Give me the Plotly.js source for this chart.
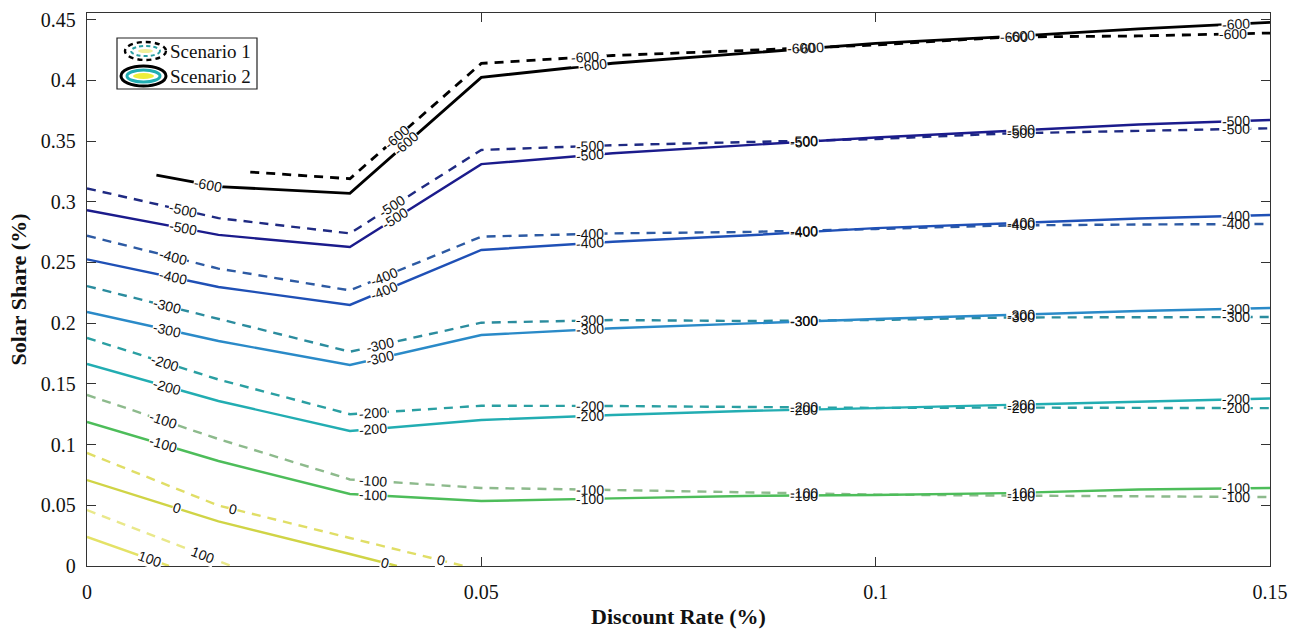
<!DOCTYPE html>
<html><head><meta charset="utf-8">
<script src="https://cdn.plot.ly/plotly-3.0.1.min.js"></script>
<style>body{margin:0;background:#fff}#chart{width:1298px;height:630px}</style>
</head><body><div id="chart"></div>
<script>
// ---------- data ----------
const xGrid = [0, 1/60, 1/30, 0.05, 1/15, 1/12, 0.1, 7/60, 2/15, 0.15];
const xTickVals = [0, 0.05, 0.1, 0.15];
const xTickText = ['0', '0.05', '0.1', '0.15'];
const yTickVals = [0, 0.05, 0.1, 0.15, 0.2, 0.25, 0.3, 0.35, 0.4, 0.45];
const yTickText = ['0', '0.05', '0.1', '0.15', '0.2', '0.25', '0.3', '0.35', '0.4', '0.45'];
const levelNames = ['-600', '-500', '-400', '-300', '-200', '-100', '0', '100'];

// Scenario 1 (dashed contours)
const s1_m600_x = [0.0207, 1/30, 0.05, 1/15, 1/12, 0.1, 7/60, 2/15, 0.15];
const s1_m600_y = [0.3245, 0.319, 0.414, 0.4205, 0.4246, 0.4292, 0.4357, 0.4366, 0.439];
const s1_m500_y = [0.311, 0.2865, 0.274, 0.3427, 0.3466, 0.3489, 0.3517, 0.3563, 0.3583, 0.3605];
const s1_m400_y = [0.272, 0.245, 0.227, 0.2713, 0.274, 0.2751, 0.2776, 0.2805, 0.2813, 0.2817];
const s1_m300_y = [0.2306, 0.2035, 0.1765, 0.2004, 0.2026, 0.2018, 0.2026, 0.2047, 0.2051, 0.2051];
const s1_m200_y = [0.1878, 0.1536, 0.125, 0.132, 0.1318, 0.131, 0.1302, 0.1305, 0.130, 0.130];
const s1_m100_y = [0.1409, 0.1046, 0.0713, 0.0643, 0.0626, 0.0605, 0.0588, 0.058, 0.0572, 0.0568];
const s1_z0_x = [0, 1/60, 1/30, 0.0478];
const s1_z0_y = [0.0931, 0.0498, 0.0231, 0];
const s1_p100_x = [0, 0.0183];
const s1_p100_y = [0.0461, 0];

// Scenario 2 (solid contours)
const s2_m600_x = [0.0088, 1/60, 1/30, 0.05, 1/15, 1/12, 0.1, 7/60, 2/15, 0.15];
const s2_m600_y = [0.322, 0.3125, 0.307, 0.4025, 0.4141, 0.4222, 0.4304, 0.436, 0.4425, 0.4477];
const s2_m500_y = [0.293, 0.2727, 0.2628, 0.331, 0.340, 0.3465, 0.353, 0.3583, 0.3636, 0.3674];
const s2_m400_y = [0.2526, 0.2298, 0.215, 0.2603, 0.2671, 0.2722, 0.2783, 0.2821, 0.2862, 0.2891];
const s2_m300_y = [0.2092, 0.1853, 0.1656, 0.1903, 0.1958, 0.1998, 0.2035, 0.2067, 0.210, 0.2125];
const s2_m200_y = [0.1664, 0.1359, 0.1112, 0.1203, 0.1244, 0.1277, 0.130, 0.1326, 0.1355, 0.138];
const s2_m100_y = [0.1186, 0.0865, 0.0593, 0.0535, 0.0557, 0.0577, 0.0585, 0.060, 0.063, 0.0643];
const s2_z0_x = [0, 1/60, 1/30, 0.0393];
const s2_z0_y = [0.0708, 0.0367, 0.0099, 0];
const s2_p100_x = [0, 0.0104];
const s2_p100_y = [0.0239, 0];

// contour label positions (x along each line)
const rightLabX = [0.0638, 0.0909, 0.1184, 0.1457];
const s1_m600_lab = [0.0393, 0.0632, 0.0905, 0.1175, 0.1453];
const s1_m500_lab = [0.0122, 0.0387].concat(rightLabX);
const s1_m400_lab = [0.0109, 0.0376].concat(rightLabX);
const s1_m300_lab = [0.0102, 0.0372].concat(rightLabX);
const s1_m200_lab = [0.0099, 0.0363].concat(rightLabX);
const s1_m100_lab = [0.0096, 0.0363].concat(rightLabX);
const s1_z0_lab = [0.0185, 0.0449];
const s1_p100_lab = [0.0147];
const s2_m600_lab = [0.0154, 0.0405, 0.0642, 0.0917, 0.1184, 0.1457];
const s2_m500_lab = [0.0122, 0.0391].concat(rightLabX);
const s2_m400_lab = [0.0109, 0.0376].concat(rightLabX);
const s2_m300_lab = [0.0102, 0.0372].concat(rightLabX);
const s2_m200_lab = [0.0102, 0.0363].concat(rightLabX);
const s2_m100_lab = [0.0096, 0.0363].concat(rightLabX);
const s2_z0_lab = [0.0114, 0.0378];
const s2_p100_lab = [0.008];

// ---------- styles ----------
const s1Colors = ['#000000', '#1f2a82', '#2d5aa3', '#2b8c9e', '#2a9fa2', '#8dba8c', '#e0de66', '#e9e88a'];
const s2Colors = ['#000000', '#1b1b8c', '#1f50b6', '#2a8ac8', '#22adb2', '#4dbd5a', '#d0d446', '#e4e266'];

const W = 1298, H = 630;
const M = {l: 87, r: 28, t: 13, b: 64};
const PW = W - M.l - M.r, PH = H - M.t - M.b;
const xRange = [0, 0.15], yRange = [0, 0.4555];
const pxX = PW / (xRange[1] - xRange[0]);
const pxY = PH / (yRange[1] - yRange[0]);

const s1Lines = [
  [s1_m600_x, s1_m600_y, s1_m600_lab], [xGrid, s1_m500_y, s1_m500_lab], [xGrid, s1_m400_y, s1_m400_lab],
  [xGrid, s1_m300_y, s1_m300_lab], [xGrid, s1_m200_y, s1_m200_lab], [xGrid, s1_m100_y, s1_m100_lab],
  [s1_z0_x, s1_z0_y, s1_z0_lab], [s1_p100_x, s1_p100_y, s1_p100_lab]
];
const s2Lines = [
  [s2_m600_x, s2_m600_y, s2_m600_lab], [xGrid, s2_m500_y, s2_m500_lab], [xGrid, s2_m400_y, s2_m400_lab],
  [xGrid, s2_m300_y, s2_m300_lab], [xGrid, s2_m200_y, s2_m200_lab], [xGrid, s2_m100_y, s2_m100_lab],
  [s2_z0_x, s2_z0_y, s2_z0_lab], [s2_p100_x, s2_p100_y, s2_p100_lab]
];

function locate(xs, ys, x) {
  for (let i = 0; i < xs.length - 1; i++) {
    if (x >= xs[i] && x <= xs[i + 1]) {
      const t = (x - xs[i]) / (xs[i + 1] - xs[i]);
      const y = ys[i] + t * (ys[i + 1] - ys[i]);
      const ang = Math.atan2(-(ys[i + 1] - ys[i]) * pxY, (xs[i + 1] - xs[i]) * pxX) * 180 / Math.PI;
      return {y: y, ang: ang};
    }
  }
  return null;
}

const traces = [];
const bgAnn = [], txtAnn = [];
const labFont = 'Liberation Sans, Arial, sans-serif';

function addScenario(lines, colors, dashed, name) {
  lines.forEach((ln, k) => {
    const [xs, ys, labs] = ln;
    traces.push({
      type: 'scatter', mode: 'lines', x: xs, y: ys, name: name + ' ' + levelNames[k],
      showlegend: false, hoverinfo: 'skip',
      line: {color: colors[k], width: k === 0 ? 2.8 : 2.4, dash: dashed ? '9px,7px' : 'solid'}
    });
    labs.forEach(lx => {
      const p = locate(xs, ys, lx);
      if (!p) return;
      const base = {x: lx, y: p.y, xref: 'x', yref: 'y', text: levelNames[k], showarrow: false,
        textangle: p.ang, xanchor: 'center', yanchor: 'middle'};
      bgAnn.push(Object.assign({}, base, {bgcolor: '#ffffff', borderpad: 0,
        font: {family: labFont, size: 14, color: 'rgba(0,0,0,0)'}}));
      txtAnn.push(Object.assign({}, base, {font: {family: labFont, size: 14, color: '#111111'}}));
    });
  });
}
addScenario(s1Lines, s1Colors, true, 'Scenario 1');
addScenario(s2Lines, s2Colors, false, 'Scenario 2');

// ---------- legend (drawn box with contour-style icons) ----------
const px2x = p => (p - M.l) / PW;
const px2y = p => (H - M.b - p) / PH;
function ell(x0, y0, x1, y1, line, fill) {
  return {type: 'circle', xref: 'paper', yref: 'paper', x0: px2x(x0), x1: px2x(x1), y0: px2y(y1), y1: px2y(y0),
    line: line, fillcolor: fill || 'rgba(0,0,0,0)', layer: 'above'};
}
const shapes = [
  {type: 'rect', xref: 'paper', yref: 'paper', x0: px2x(117), x1: px2x(257), y0: px2y(89), y1: px2y(38),
    line: {color: '#222', width: 1.2}, fillcolor: '#ffffff', layer: 'above'},
  ell(125, 42, 166, 60, {color: '#000', width: 2.4, dash: '5px,4px'}),
  ell(131, 46, 160, 56, {color: '#2a9fa2', width: 2, dash: '4px,3px'}),
  ell(138, 49, 153, 53, {color: 'rgba(0,0,0,0)', width: 0}, '#f1ef9a'),
  ell(121, 66, 166, 86, {color: '#000', width: 3}),
  ell(127, 70, 160, 82, {color: '#22adb2', width: 3}),
  ell(133, 73, 154, 79, {color: 'rgba(0,0,0,0)', width: 0}, '#eeee3c')
];
const legAnn = [
  {xref: 'paper', yref: 'paper', x: px2x(168), y: px2y(51), text: 'Scenario 1', showarrow: false, xanchor: 'left', yanchor: 'middle',
    font: {family: 'Liberation Serif, Times New Roman, serif', size: 19, color: '#111'}},
  {xref: 'paper', yref: 'paper', x: px2x(168), y: px2y(76), text: 'Scenario 2', showarrow: false, xanchor: 'left', yanchor: 'middle',
    font: {family: 'Liberation Serif, Times New Roman, serif', size: 19, color: '#111'}}
];

const serif = 'Liberation Serif, Times New Roman, serif';
const layout = {
  width: W, height: H, margin: M, paper_bgcolor: '#fff', plot_bgcolor: '#fff', showlegend: false,
  xaxis: {
    range: xRange, tickvals: xTickVals, ticktext: xTickText, ticks: 'inside', ticklen: 9, tickcolor: '#333',
    showline: true, linecolor: '#333', linewidth: 1.2, mirror: 'ticks', showgrid: false, zeroline: false,
    tickfont: {family: serif, size: 20, color: '#111'}, ticklabelstandoff: 8,
    title: {text: 'Discount Rate (%)', font: {family: serif, size: 22, color: '#111', weight: 'bold'}, standoff: 6}
  },
  yaxis: {
    range: yRange, tickvals: yTickVals, ticktext: yTickText, ticks: 'inside', ticklen: 9, tickcolor: '#333',
    showline: true, linecolor: '#333', linewidth: 1.2, mirror: 'ticks', showgrid: false, zeroline: false,
    tickfont: {family: serif, size: 20, color: '#111'}, ticklabelstandoff: 6,
    title: {text: 'Solar Share (%)', font: {family: serif, size: 22, color: '#111', weight: 'bold'}, standoff: 8}
  },
  shapes: shapes,
  annotations: bgAnn.concat(txtAnn).concat(legAnn)
};
Plotly.newPlot('chart', traces, layout, {displayModeBar: false, staticPlot: true});
</script></body></html>
